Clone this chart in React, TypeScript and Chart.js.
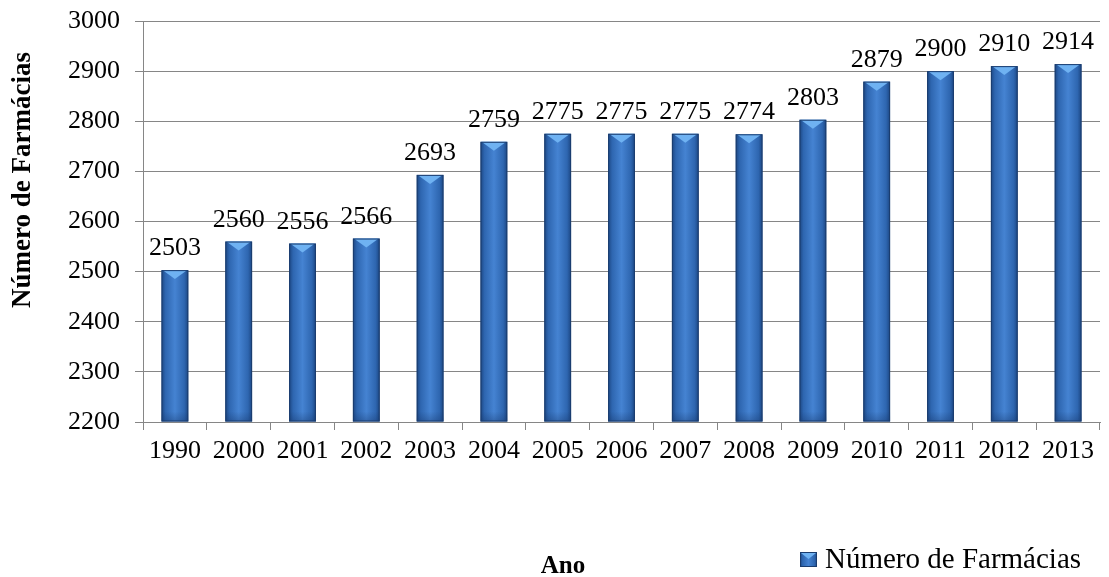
import React, { useEffect, useRef } from "react";
import { Chart, registerables } from "chart.js";

Chart.register(...registerables);

const categories = ["1990", "2000", "2001", "2002", "2003", "2004", "2005", "2006", "2007", "2008", "2009", "2010", "2011", "2012", "2013"];
const farmacias = [2503, 2560, 2556, 2566, 2693, 2759, 2775, 2775, 2775, 2774, 2803, 2879, 2900, 2910, 2914];
const yMin = 2200;
const yMax = 3000;
const yStep = 100;
const seriesName = "Número de Farmácias";
const xTitle = "Ano";
const yTitle = "Número de Farmácias";

const FONT = "'Liberation Serif', 'Times New Roman', serif";

function barGradient(ctx: CanvasRenderingContext2D, left: number, width: number) {
  const g = ctx.createLinearGradient(left, 0, left + width, 0);
  g.addColorStop(0, "#1c4682");
  g.addColorStop(0.15, "#2e66b0");
  g.addColorStop(0.5, "#4583d2");
  g.addColorStop(0.85, "#2e66b0");
  g.addColorStop(1, "#1c4682");
  return g;
}

const barStylePlugin = {
  id: "barStyle",
  afterDatasetsDraw(chart: any) {
    const ctx: CanvasRenderingContext2D = chart.ctx;
    const meta = chart.getDatasetMeta(0);
    const bottom = chart.chartArea.bottom;
    ctx.save();
    meta.data.forEach((el: any, i: number) => {
      const p = el.getProps(["x", "y", "base", "width"], true);
      const x = p.x, y = p.y, width = p.width;
      const base = Math.min(p.base, bottom);
      const left = x - width / 2;
      const h = base - y;
      ctx.fillStyle = barGradient(ctx, left, width);
      ctx.fillRect(left, y, width, h);
      // top bevel
      ctx.beginPath();
      ctx.moveTo(left + 1, y);
      ctx.lineTo(left + width - 1, y);
      ctx.lineTo(x, y + Math.min(9, h));
      ctx.closePath();
      ctx.fillStyle = "#6fb2f2";
      ctx.fill();
      // bottom shade
      const bg = ctx.createLinearGradient(0, base - 10, 0, base);
      bg.addColorStop(0, "rgba(20,50,100,0)");
      bg.addColorStop(1, "rgba(20,50,100,0.35)");
      ctx.fillStyle = bg;
      ctx.fillRect(left, base - 10, width, 10);
      ctx.strokeStyle = "#1a3c6e";
      ctx.lineWidth = 1;
      ctx.strokeRect(left + 0.5, y + 0.5, width - 1, h - 1);

      // data label
      ctx.fillStyle = "#000";
      ctx.font = `26px ${FONT}`;
      ctx.textAlign = "center";
      ctx.textBaseline = "alphabetic";
      ctx.fillText(String(farmacias[i]), x, y - 15);
    });
    ctx.restore();
  },
  afterDraw(chart: any) {
    const ctx: CanvasRenderingContext2D = chart.ctx;
    ctx.save();
    // y title
    ctx.translate(23, 180);
    ctx.rotate(-Math.PI / 2);
    ctx.font = `bold 27px ${FONT}`;
    ctx.fillStyle = "#000";
    ctx.textAlign = "center";
    ctx.textBaseline = "middle";
    ctx.fillText(yTitle, 0, 0);
    ctx.restore();

    ctx.save();
    ctx.font = `bold 25px ${FONT}`;
    ctx.fillStyle = "#000";
    ctx.textAlign = "center";
    ctx.textBaseline = "alphabetic";
    ctx.fillText(xTitle, 563, 573);

    // legend
    const mx = 800, my = 552, mw = 17, mh = 15;
    ctx.fillStyle = barGradient(ctx, mx, mw);
    ctx.fillRect(mx, my, mw, mh);
    ctx.beginPath();
    ctx.moveTo(mx + 1, my + 1);
    ctx.lineTo(mx + mw - 1, my + 1);
    ctx.lineTo(mx + mw / 2, my + 7);
    ctx.closePath();
    ctx.fillStyle = "#6fb2f2";
    ctx.fill();
    ctx.strokeStyle = "#1a3c6e";
    ctx.strokeRect(mx + 0.5, my + 0.5, mw - 1, mh - 1);
    ctx.font = `29px ${FONT}`;
    ctx.fillStyle = "#000";
    ctx.textAlign = "left";
    ctx.fillText(seriesName, 825, 568);
    ctx.restore();
  },
};

export default function App() {
  const ref = useRef<HTMLCanvasElement | null>(null);
  useEffect(() => {
    if (!ref.current) return;
    const chart = new Chart(ref.current, {
      type: "bar",
      data: {
        labels: categories,
        datasets: [
          {
            label: seriesName,
            data: farmacias,
            base: yMin,
            backgroundColor: "rgba(0,0,0,0)",
            borderWidth: 0,
            barPercentage: 0.42,
            categoryPercentage: 1,
          },
        ],
      },
      plugins: [barStylePlugin],
      options: {
        animation: false,
        responsive: true,
        maintainAspectRatio: false,
        layout: { padding: { top: 21, right: 9, left: 0, bottom: 0 } },
        plugins: {
          legend: { display: false },
          tooltip: { enabled: false },
        },
        scales: {
          x: {
            ticks: { font: { family: FONT, size: 26 }, color: "#000", padding: 6, maxRotation: 0, autoSkip: false },
            grid: { drawOnChartArea: false, offset: true, tickLength: 8, color: "#868686" },
            border: { color: "#868686" },
            afterFit: (s: any) => {
              s.height = 155;
              s.paddingLeft = 0;
              s.paddingRight = 0;
            },
          },
          y: {
            min: yMin,
            max: yMax,
            ticks: {
              stepSize: yStep,
              font: { family: FONT, size: 26 },
              color: "#000",
              padding: 15,
              callback: (v: any) => String(v),
            },
            grid: { color: "#868686", tickLength: 8 },
            border: { color: "#868686" },
            afterFit: (s: any) => {
              s.width = 143;
              s.paddingTop = 0;
              s.paddingBottom = 0;
            },
          },
        },
      },
    });
    return () => chart.destroy();
  }, []);
  return (
    <div style={{ position: "absolute", left: 0, top: 0, width: 1109, height: 577, background: "#fff" }}>
      <canvas ref={ref} />
    </div>
  );
}
